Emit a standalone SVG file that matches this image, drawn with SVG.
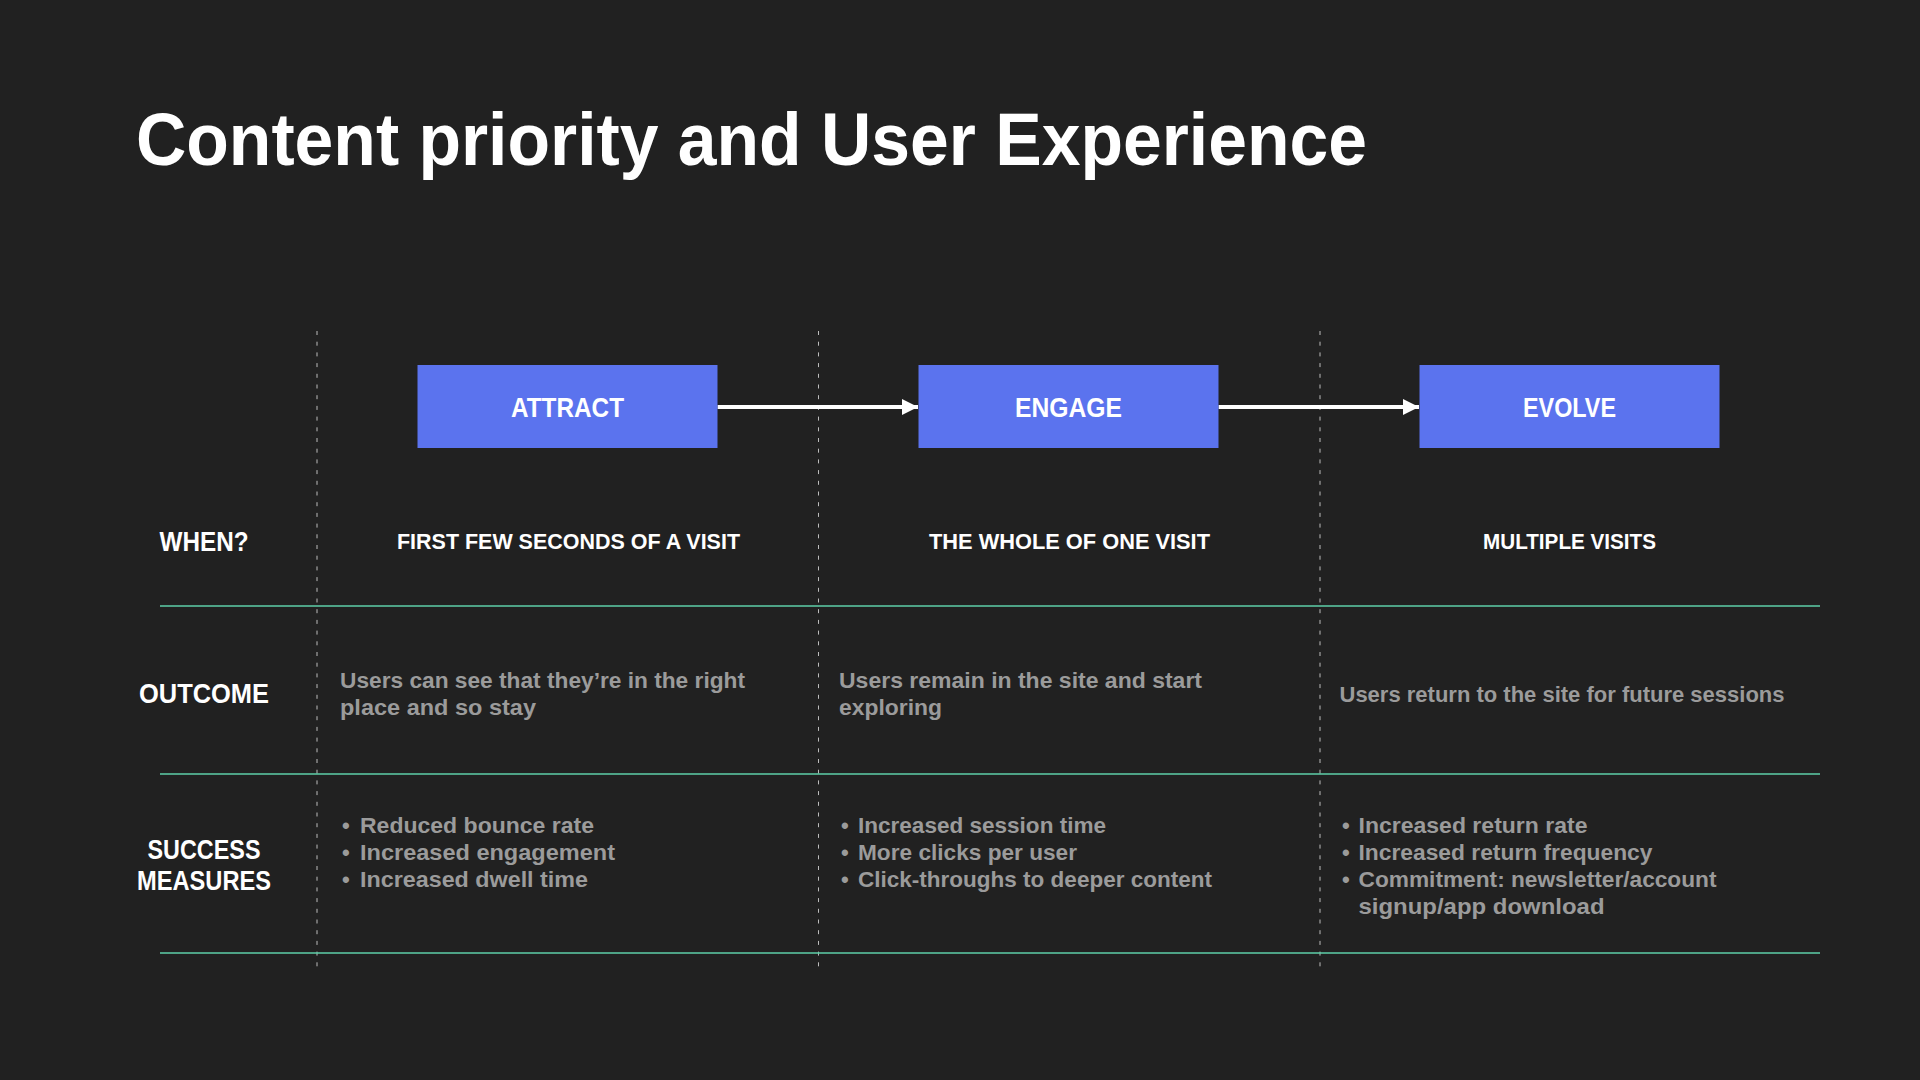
<svg xmlns="http://www.w3.org/2000/svg" width="1920" height="1080" viewBox="0 0 1920 1080">
  <style>
    text { font-family: "Liberation Sans", Arial, sans-serif; font-weight: bold; }
    .title { fill: #ffffff; font-size: 74px; }
    .box { fill: #5B73EE; }
    .boxlabel { fill: #ffffff; font-size: 28px; text-anchor: middle; }
    .rowlabel { fill: #ffffff; font-size: 27px; text-anchor: middle; }
    .head { fill: #ffffff; font-size: 22px; text-anchor: middle; }
    .body { fill: #9B9B9B; font-size: 22px; }
    .divider { stroke: #BDBDBD; stroke-width: 1; stroke-dasharray: 4 6.7; fill: none; }
    .rule { stroke: #5ECFA8; stroke-width: 1.5; fill: none; }
    .conn { stroke: #ffffff; stroke-width: 4; fill: none; }
  </style>
  <defs>
    <marker id="arrow" markerUnits="userSpaceOnUse" markerWidth="16" markerHeight="16" refX="16" refY="8" orient="auto" viewBox="0 0 16 16">
      <path d="M0,0 L16,8 L0,16 Z" fill="#ffffff"/>
    </marker>
  </defs>
  <rect x="0" y="0" width="1920" height="1080" fill="#212121"/>

  <text class="title" x="136" y="165" textLength="1231" lengthAdjust="spacingAndGlyphs">Content priority and User Experience</text>

  <g id="grid">
    <line class="divider" x1="317" y1="331" x2="317" y2="972"/>
    <line class="divider" x1="818.5" y1="331" x2="818.5" y2="972"/>
    <line class="divider" x1="1320" y1="331" x2="1320" y2="972"/>
    <line class="rule" x1="160" y1="606" x2="1820" y2="606"/>
    <line class="rule" x1="160" y1="774" x2="1820" y2="774"/>
    <line class="rule" x1="160" y1="953" x2="1820" y2="953"/>
  </g>

  <g id="connectors">
    <line class="conn" x1="717.5" y1="407" x2="918" y2="407" marker-end="url(#arrow)"/>
    <line class="conn" x1="1218.5" y1="407" x2="1419" y2="407" marker-end="url(#arrow)"/>
  </g>

  <g id="attract">
    <rect class="box" x="417.5" y="365" width="300" height="83"/>
    <text class="boxlabel" x="567.5" y="417" textLength="113" lengthAdjust="spacingAndGlyphs">ATTRACT</text>
  </g>
  <g id="engage">
    <rect class="box" x="918.5" y="365" width="300" height="83"/>
    <text class="boxlabel" x="1068.5" y="417" textLength="107" lengthAdjust="spacingAndGlyphs">ENGAGE</text>
  </g>
  <g id="evolve">
    <rect class="box" x="1419.5" y="365" width="300" height="83"/>
    <text class="boxlabel" x="1569.5" y="417" textLength="93" lengthAdjust="spacingAndGlyphs">EVOLVE</text>
  </g>

  <g id="row-labels">
    <text class="rowlabel" x="204" y="550.5" textLength="89" lengthAdjust="spacingAndGlyphs">WHEN?</text>
    <text class="rowlabel" x="204" y="703" textLength="130" lengthAdjust="spacingAndGlyphs">OUTCOME</text>
    <text class="rowlabel" x="204" y="858.5" textLength="113" lengthAdjust="spacingAndGlyphs">SUCCESS</text>
    <text class="rowlabel" x="204" y="890" textLength="134" lengthAdjust="spacingAndGlyphs">MEASURES</text>
  </g>

  <g id="when">
    <text class="head" x="568.5" y="548.5" textLength="343" lengthAdjust="spacingAndGlyphs">FIRST FEW SECONDS OF A VISIT</text>
    <text class="head" x="1069.5" y="548.5" textLength="281" lengthAdjust="spacingAndGlyphs">THE WHOLE OF ONE VISIT</text>
    <text class="head" x="1569.5" y="548.5" textLength="173" lengthAdjust="spacingAndGlyphs">MULTIPLE VISITS</text>
  </g>

  <g id="outcome">
    <text class="body" x="340" y="688" textLength="405" lengthAdjust="spacingAndGlyphs">Users can see that they’re in the right</text>
    <text class="body" x="340" y="715" textLength="196" lengthAdjust="spacingAndGlyphs">place and so stay</text>
    <text class="body" x="839" y="688" textLength="363" lengthAdjust="spacingAndGlyphs">Users remain in the site and start</text>
    <text class="body" x="839" y="715" textLength="103" lengthAdjust="spacingAndGlyphs">exploring</text>
    <text class="body" x="1339.5" y="701.5" textLength="445" lengthAdjust="spacingAndGlyphs">Users return to the site for future sessions</text>
  </g>

  <g id="success">
    <text class="body" x="342" y="833">•</text>
    <text class="body" x="360" y="833" textLength="234" lengthAdjust="spacingAndGlyphs">Reduced bounce rate</text>
    <text class="body" x="342" y="860">•</text>
    <text class="body" x="360" y="860" textLength="255" lengthAdjust="spacingAndGlyphs">Increased engagement</text>
    <text class="body" x="342" y="887">•</text>
    <text class="body" x="360" y="887" textLength="228" lengthAdjust="spacingAndGlyphs">Increased dwell time</text>

    <text class="body" x="841" y="833">•</text>
    <text class="body" x="858" y="833" textLength="248" lengthAdjust="spacingAndGlyphs">Increased session time</text>
    <text class="body" x="841" y="860">•</text>
    <text class="body" x="858" y="860" textLength="219" lengthAdjust="spacingAndGlyphs">More clicks per user</text>
    <text class="body" x="841" y="887">•</text>
    <text class="body" x="858" y="887" textLength="354" lengthAdjust="spacingAndGlyphs">Click-throughs to deeper content</text>

    <text class="body" x="1342" y="833">•</text>
    <text class="body" x="1358.5" y="833" textLength="229" lengthAdjust="spacingAndGlyphs">Increased return rate</text>
    <text class="body" x="1342" y="860">•</text>
    <text class="body" x="1358.5" y="860" textLength="294" lengthAdjust="spacingAndGlyphs">Increased return frequency</text>
    <text class="body" x="1342" y="887">•</text>
    <text class="body" x="1358.5" y="887" textLength="358" lengthAdjust="spacingAndGlyphs">Commitment: newsletter/account</text>
    <text class="body" x="1358.5" y="914" textLength="246" lengthAdjust="spacingAndGlyphs">signup/app download</text>
  </g>
</svg>
